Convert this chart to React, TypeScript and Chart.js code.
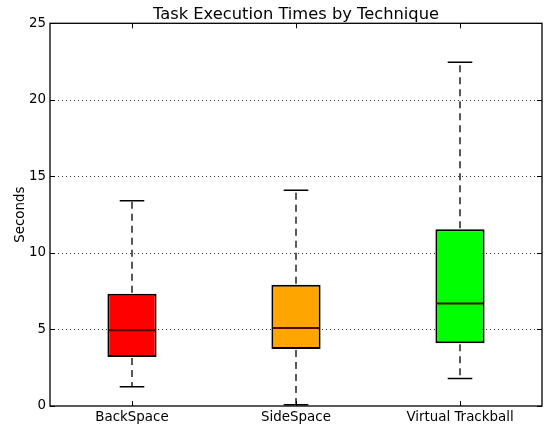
import React, { useEffect, useRef } from "react";
import { Chart, registerables } from "chart.js";

Chart.register(...registerables);

const categories = ["BackSpace", "SideSpace", "Virtual Trackball"];
const whiskerLow = [1.25, 0.08, 1.8];
const q1 = [3.2, 3.72, 4.1];
const median = [4.95, 5.1, 6.7];
const q3 = [7.33, 7.92, 11.55];
const whiskerHigh = [13.4, 14.1, 22.45];
const boxColors = ["#ff0000", "#ffa500", "#00ff00"];
const yTicks = [0, 5, 10, 15, 20, 25];
const gridValues = [5, 10, 15, 20];

const boxExtras = {
  id: "boxExtras",
  beforeDatasetsDraw(chart: any) {
    const { ctx, chartArea: a, scales } = chart;
    const y = scales.y;
    ctx.save();
    ctx.strokeStyle = "#000";
    ctx.lineWidth = 0.8;
    ctx.setLineDash([1, 3]);
    for (const v of gridValues) {
      const py = Math.round(y.getPixelForValue(v)) + 0.5;
      ctx.beginPath();
      ctx.moveTo(a.left, py);
      ctx.lineTo(a.right, py);
      ctx.stroke();
    }
    ctx.restore();
  },
  afterDatasetsDraw(chart: any) {
    const { ctx, chartArea: a, scales } = chart;
    const x = scales.x;
    const y = scales.y;
    const meta = chart.getDatasetMeta(0);
    ctx.save();
    for (let i = 0; i < categories.length; i++) {
      const px = Math.round(x.getPixelForValue(i));
      const bw = meta.data[i].width;
      const capHalf = bw / 4;
      // whiskers
      ctx.strokeStyle = "#222";
      ctx.lineWidth = 1.5;
      ctx.setLineDash([7, 5]);
      ctx.beginPath();
      ctx.moveTo(px, y.getPixelForValue(q3[i]) - 1);
      ctx.lineTo(px, y.getPixelForValue(whiskerHigh[i]));
      ctx.moveTo(px, y.getPixelForValue(q1[i]) + 1);
      ctx.lineTo(px, y.getPixelForValue(whiskerLow[i]));
      ctx.stroke();
      // caps
      ctx.setLineDash([]);
      ctx.strokeStyle = "#000";
      ctx.lineWidth = 1.5;
      ctx.beginPath();
      const hy = y.getPixelForValue(whiskerHigh[i]);
      const ly = y.getPixelForValue(whiskerLow[i]);
      ctx.moveTo(px - capHalf, hy);
      ctx.lineTo(px + capHalf, hy);
      ctx.moveTo(px - capHalf, ly);
      ctx.lineTo(px + capHalf, ly);
      ctx.stroke();
      // median
      ctx.strokeStyle = "#4a0a00";
      ctx.lineWidth = 2;
      const my = y.getPixelForValue(median[i]);
      ctx.beginPath();
      ctx.moveTo(px - bw / 2 + 1, my);
      ctx.lineTo(px + bw / 2 - 1, my);
      ctx.stroke();
    }
    // frame
    ctx.setLineDash([]);
    ctx.strokeStyle = "#000";
    ctx.lineWidth = 1.3;
    ctx.strokeRect(a.left, a.top, a.right - a.left, a.bottom - a.top);
    // inward ticks
    ctx.lineWidth = 1;
    ctx.beginPath();
    for (const v of yTicks) {
      const py = Math.round(y.getPixelForValue(v)) + 0.5;
      ctx.moveTo(a.left, py);
      ctx.lineTo(a.left + 5, py);
      ctx.moveTo(a.right, py);
      ctx.lineTo(a.right - 5, py);
    }
    for (let i = 0; i < categories.length; i++) {
      const px = Math.round(x.getPixelForValue(i)) + 0.5;
      ctx.moveTo(px, a.bottom);
      ctx.lineTo(px, a.bottom - 5);
      ctx.moveTo(px, a.top);
      ctx.lineTo(px, a.top + 5);
    }
    ctx.stroke();
    ctx.restore();
  },
};

export default function App() {
  const ref = useRef<HTMLCanvasElement>(null);
  useEffect(() => {
    if (!ref.current) return;
    Chart.defaults.font.family = "'DejaVu Sans', sans-serif";
    Chart.defaults.color = "#000";
    const chart = new Chart(ref.current, {
      type: "bar",
      data: {
        labels: categories,
        datasets: [
          {
            data: categories.map((_, i) => [q1[i], q3[i]]) as any,
            backgroundColor: boxColors,
            borderColor: "#000",
            borderWidth: 2,
            borderSkipped: false,
            barPercentage: 0.3,
            categoryPercentage: 1,
          },
        ],
      },
      options: {
        responsive: false,
        animation: false,
        events: [],
        layout: { padding: { top: 0, right: 4, left: 0, bottom: 0 } },
        plugins: {
          legend: { display: false },
          tooltip: { enabled: false },
          title: {
            display: true,
            text: "Task Execution Times by Technique",
            fullSize: false,
            color: "#000",
            font: { size: 16.3, weight: "normal", lineHeight: 1 },
            padding: { top: 6.5, bottom: 0.5 },
          },
        },
        scales: {
          x: {
            grid: { display: false, drawTicks: false },
            border: { display: false },
            ticks: { font: { size: 13.4 }, color: "#000", padding: 3, maxRotation: 0 },
            afterFit(scale: any) {
              scale.height = 21;
            },
          },
          y: {
            min: 0,
            max: 25,
            grid: { display: false, drawTicks: false },
            border: { display: false },
            ticks: {
              stepSize: 5,
              font: { size: 13.4 },
              color: "#000",
              padding: 4,
            },
            title: {
              display: true,
              text: "Seconds",
              font: { size: 13.4 },
              color: "#000",
              padding: { top: 12, bottom: 0 },
            },
            afterFit(scale: any) {
              scale.width = 50;
            },
          },
        },
      },
      plugins: [boxExtras],
    });
    return () => chart.destroy();
  }, []);
  return (
    <div style={{ position: "fixed", left: 0, top: 0, width: 546, height: 427, background: "#fff" }}>
      <canvas ref={ref} width={546} height={427} />
    </div>
  );
}
